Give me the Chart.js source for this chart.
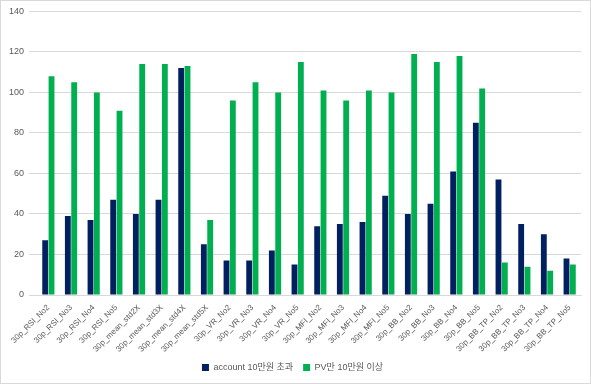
<!DOCTYPE html>
<html>
<head>
<meta charset="utf-8">
<script src="https://cdn.jsdelivr.net/npm/chart.js@4"></script>
<style>
  html, body { margin: 0; padding: 0; background: #fff; }
  #wrap { position: relative; width: 591px; height: 384px; box-sizing: border-box; border: 1px solid #d9d9d9; }
</style>
</head>
<body>
<div id="wrap"><canvas id="bar"></canvas></div>
<script>
var labels = ['30p_RSI_No2', '30p_RSI_No3', '30p_RSI_No4', '30p_RSI_No5',
    '30p_mean_std2X', '30p_mean_std3X', '30p_mean_std4X', '30p_mean_std5X',
    '30p_VR_No2', '30p_VR_No3', '30p_VR_No4', '30p_VR_No5',
    '30p_MFI_No2', '30p_MFI_No3', '30p_MFI_No4', '30p_MFI_No5',
    '30p_BB_No2', '30p_BB_No3', '30p_BB_No4', '30p_BB_No5',
    '30p_BB_TP_No2', '30p_BB_TP_No3', '30p_BB_TP_No4', '30p_BB_TP_No5'];
var account = [27, 39, 37, 47, 40, 47, 112, 25, 17, 17, 22, 15, 34, 35, 36, 49, 40, 45, 61, 85, 57, 35, 30, 18];
var pv = [108, 105, 100, 91, 114, 114, 113, 37, 96, 105, 100, 115, 101, 96, 101, 100, 119, 115, 118, 102, 16, 14, 12, 15];
var yTicks = [0, 20, 40, 60, 80, 100, 120, 140];

var font = "'Liberation Sans', 'Noto Sans CJK KR', sans-serif";
Chart.defaults.font.family = font;
Chart.defaults.font.size = 9;
Chart.defaults.color = '#595959';

var ctx = document.getElementById('bar').getContext('2d');
var myChart = new Chart(ctx, {
    type: 'bar',
    data: {
        labels: labels,
        datasets: [{
            label: 'account 10만원 초과',
            data: account,
            backgroundColor: '#002060',
            borderWidth: 0
        }, {
            label: 'PV만 10만원 이상',
            data: pv,
            backgroundColor: '#00B050',
            borderWidth: 0
        }]
    },
    options: {
        responsive: true,
        maintainAspectRatio: false,
        animation: false,
        layout: { padding: { top: 3, right: 9, left: 3, bottom: 1 } },
        datasets: {
            bar: { categoryPercentage: 0.56, barPercentage: 0.92 }
        },
        plugins: {
            legend: {
                position: 'bottom',
                labels: { boxWidth: 7, boxHeight: 7, padding: 10, font: { size: 9 } }
            },
            tooltip: { enabled: false }
        },
        scales: {
            x: {
                grid: { display: false },
                border: { color: '#d9d9d9' },
                ticks: { minRotation: 45, maxRotation: 45, autoSkip: false, padding: 0, font: { size: 8 } },
                afterFit: function (axis) { axis.height = 58; }
            },
            y: {
                min: 0,
                max: 140,
                afterBuildTicks: function (axis) {
                    axis.ticks = yTicks.map(function (v) { return { value: v }; });
                },
                grid: { color: '#d9d9d9' },
                border: { display: false },
                ticks: { padding: 5 }
            }
        }
    }
});
</script>
</body>
</html>
